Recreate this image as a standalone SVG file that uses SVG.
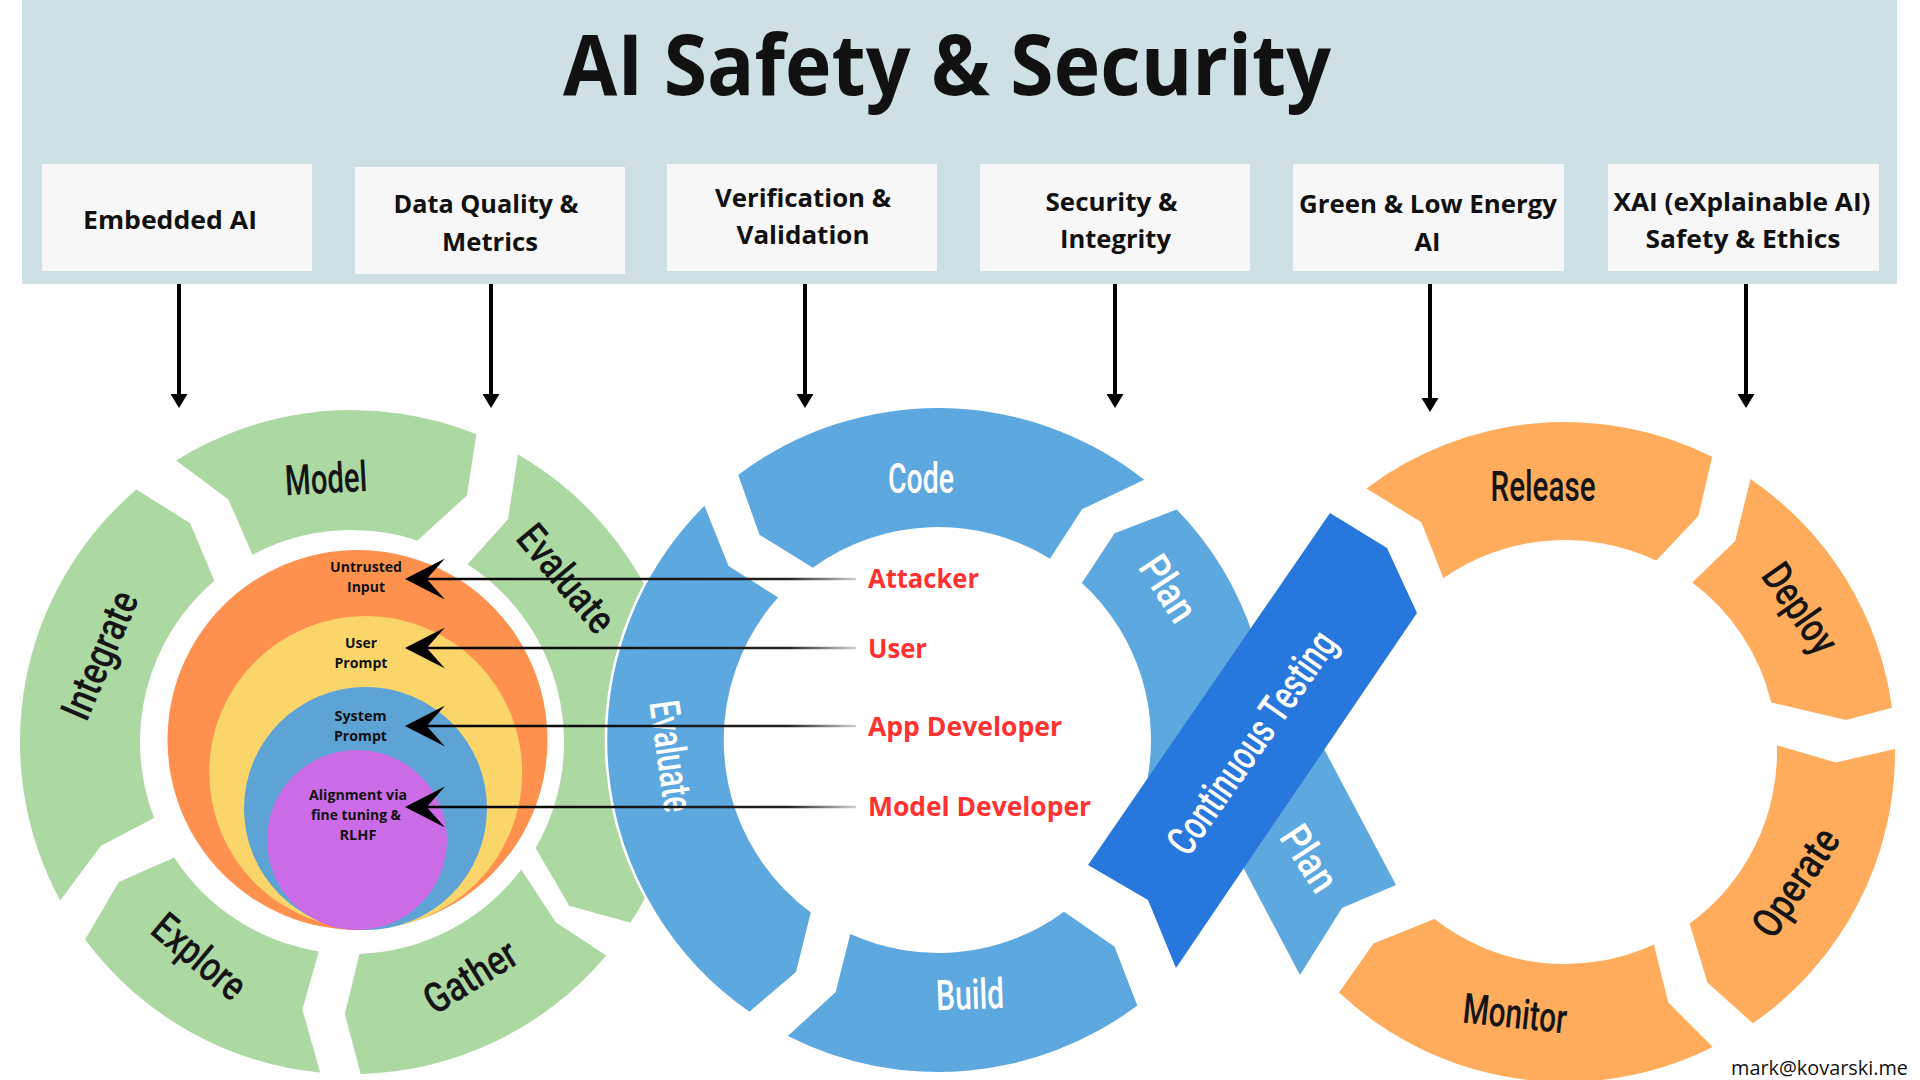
<svg xmlns="http://www.w3.org/2000/svg" width="1920" height="1080" viewBox="0 0 1920 1080">
<defs>
<style>
.hdr{font-family:"Open Sans","Liberation Sans",sans-serif;font-weight:700;fill:#111;text-anchor:middle}
.box{fill:#f7f7f7}
.ring{font-family:Roboto,"Liberation Sans",sans-serif;font-weight:500;text-anchor:middle;font-size:42px}
.dk{fill:#151515}
.wt{fill:#fff}
.g{fill:#acd8a2}
.b{fill:#5ea8e0}
.o{fill:#ffad5c}
.lay{font-family:"Open Sans","Liberation Sans",sans-serif;font-weight:700;font-size:14.5px;fill:#111;text-anchor:middle}
.role{font-family:"Open Sans","Liberation Sans",sans-serif;font-weight:700;font-size:27px;fill:#ff3131}
.drop{stroke:#000;stroke-width:4;fill:none}
.ptr{stroke-width:2.5;fill:none}
</style>
<marker id="tri" markerUnits="userSpaceOnUse" viewBox="0 -9 14 18" refX="1" refY="0" markerWidth="14" markerHeight="18" orient="auto">
<path d="M0,-8.5 L14,0 L0,8.5 Z" fill="#000"/>
</marker>
<marker id="barb" markerUnits="userSpaceOnUse" viewBox="-42 -22 44 44" refX="-7" refY="0" markerWidth="44" markerHeight="44" orient="auto">
<path d="M0,0 L-40,-20.5 L-21.7,0 L-40,20.5 Z" fill="#000"/>
</marker>
<linearGradient id="fade" gradientUnits="userSpaceOnUse" x1="856" y1="0" x2="405" y2="0">
<stop offset="0" stop-color="#d0d0d0"/>
<stop offset="0.15" stop-color="#222"/>
<stop offset="1" stop-color="#000"/>
</linearGradient>
</defs>

<rect width="1920" height="1080" fill="#fff"/>

<g id="header">
<rect x="22" y="0" width="1875" height="284" fill="#cee0e3"/>
<text class="hdr" x="947" y="95" font-size="84" textLength="768" lengthAdjust="spacingAndGlyphs">AI Safety &amp; Security</text>
</g>

<g id="box-embedded">
<rect class="box" x="42" y="164" width="270" height="107"/>
<text class="hdr" x="170" y="229" font-size="25" textLength="174" lengthAdjust="spacingAndGlyphs">Embedded AI</text>
</g>
<g id="box-data">
<rect class="box" x="355" y="167" width="270" height="107"/>
<text class="hdr" x="486" y="213" font-size="25" textLength="185" lengthAdjust="spacingAndGlyphs">Data Quality &amp;</text>
<text class="hdr" x="490" y="251" font-size="25" textLength="96" lengthAdjust="spacingAndGlyphs">Metrics</text>
</g>
<g id="box-verification">
<rect class="box" x="667" y="164" width="270" height="107"/>
<text class="hdr" x="803" y="207" font-size="25" textLength="176" lengthAdjust="spacingAndGlyphs">Verification &amp;</text>
<text class="hdr" x="803" y="244" font-size="25" textLength="133" lengthAdjust="spacingAndGlyphs">Validation</text>
</g>
<g id="box-security">
<rect class="box" x="980" y="164" width="270" height="107"/>
<text class="hdr" x="1111.5" y="211" font-size="25" textLength="132" lengthAdjust="spacingAndGlyphs">Security &amp;</text>
<text class="hdr" x="1115.5" y="248" font-size="25" textLength="111" lengthAdjust="spacingAndGlyphs">Integrity</text>
</g>
<g id="box-green">
<rect class="box" x="1293" y="164" width="271" height="107"/>
<text class="hdr" x="1428" y="213" font-size="25" textLength="258" lengthAdjust="spacingAndGlyphs">Green &amp; Low Energy</text>
<text class="hdr" x="1427.5" y="251" font-size="25" textLength="26" lengthAdjust="spacingAndGlyphs">AI</text>
</g>
<g id="box-xai">
<rect class="box" x="1608" y="164" width="271" height="107"/>
<text class="hdr" x="1742" y="211" font-size="25" textLength="257" lengthAdjust="spacingAndGlyphs">XAI (eXplainable AI)</text>
<text class="hdr" x="1743" y="248" font-size="25" textLength="195" lengthAdjust="spacingAndGlyphs">Safety &amp; Ethics</text>
</g>

<!-- green ring -->
<g id="g-model">
<path class="g" d="M176.1,460.5 A332,332 0 0 1 476.4,434.2 L466.9,495.5 L417.5,540.4 A212,212 0 0 0 252.5,554.8 L228.5,499.6 Z"/>
<text class="ring dk" transform="translate(326 478) rotate(-3)" dy="0.36em" textLength="82" lengthAdjust="spacingAndGlyphs">Model</text>
</g>
<g id="g-evaluate">
<path class="g" d="M518,454.5 A332,332 0 0 1 630.4,922.8 L569.2,905.7 L535.6,848 A212,212 0 0 0 467.5,564.2 L508,519.2 Z"/>
<text class="ring dk" transform="translate(567 578) rotate(50)" dy="0.36em" textLength="127" lengthAdjust="spacingAndGlyphs">Evaluate</text>
</g>
<g id="g-gather">
<path class="g" d="M606.3,955.4 A332,332 0 0 1 360.7,1073.9 L344.9,1013.9 L359.4,953.9 A212,212 0 0 0 521.3,869.6 L555.7,922.2 Z"/>
<text class="ring dk" transform="translate(470 976) rotate(-32)" dy="0.36em" textLength="102" lengthAdjust="spacingAndGlyphs">Gather</text>
</g>
<g id="g-explore">
<path class="g" d="M320.2,1072.5 A332,332 0 0 1 85.1,939.5 L118.8,882.1 L174.2,857.5 A212,212 0 0 0 318.8,951.4 L302.4,1009.5 Z"/>
<text class="ring dk" transform="translate(200 956) rotate(40)" dy="0.36em" textLength="109" lengthAdjust="spacingAndGlyphs">Explore</text>
</g>
<g id="g-integrate">
<path class="g" d="M60.2,900.4 A332,332 0 0 1 136.4,489.5 L190.2,523.3 L214.3,580.8 A212,212 0 0 0 154.1,818.0 L100.7,846.1 Z"/>
<text class="ring dk" transform="translate(99 655) rotate(-67)" dy="0.36em" textLength="135" lengthAdjust="spacingAndGlyphs">Integrate</text>
</g>

<!-- nested layers -->
<g id="layer-untrusted">
<circle cx="357.5" cy="740" r="190" fill="#fe914d"/>
<text class="lay" x="366" y="572" textLength="72" lengthAdjust="spacingAndGlyphs">Untrusted</text>
<text class="lay" x="366" y="592" textLength="38" lengthAdjust="spacingAndGlyphs">Input</text>
</g>
<g id="layer-user">
<circle cx="365.7" cy="772.5" r="156.5" fill="#fad66a"/>
<text class="lay" x="361" y="648" textLength="32" lengthAdjust="spacingAndGlyphs">User</text>
<text class="lay" x="361" y="668" textLength="53" lengthAdjust="spacingAndGlyphs">Prompt</text>
</g>
<g id="layer-system">
<circle cx="365.5" cy="808.5" r="121.5" fill="#5ea3d6"/>
<text class="lay" x="360.5" y="721" textLength="52" lengthAdjust="spacingAndGlyphs">System</text>
<text class="lay" x="360.5" y="741" textLength="53" lengthAdjust="spacingAndGlyphs">Prompt</text>
</g>
<g id="layer-alignment">
<circle cx="357" cy="840" r="90" fill="#cb6ce6"/>
<text class="lay" x="358" y="800" textLength="98" lengthAdjust="spacingAndGlyphs">Alignment via</text>
<text class="lay" x="356" y="819.5" textLength="90" lengthAdjust="spacingAndGlyphs">fine tuning &amp;</text>
<text class="lay" x="358" y="839.5" textLength="37" lengthAdjust="spacingAndGlyphs">RLHF</text>
</g>

<!-- blue ring -->
<g id="b-code">
<path class="b" d="M738.2,474.9 A332,332 0 0 1 1144.2,479.8 L1082.1,509.3 L1049.9,558.8 A213,213 0 0 0 812.8,567.7 L759.5,534.7 Z"/>
<text class="ring wt" transform="translate(921 478)" dy="0.36em" textLength="66" lengthAdjust="spacingAndGlyphs">Code</text>
</g>
<g id="b-evaluate">
<path class="b" stroke="#fff" stroke-width="2.5" d="M704.9,503.6 A332,332 0 0 0 749.5,1013.3 L797.1,972.7 L812.2,911.9 A213,213 0 0 1 780.0,597.2 L729.6,565.2 Z"/>
<text class="ring wt" transform="translate(672 756) rotate(82)" dy="0.36em" textLength="112" lengthAdjust="spacingAndGlyphs">Evaluate</text>
</g>
<g id="b-build">
<path class="b" d="M787.8,1036.1 A332,332 0 0 0 1137.3,1005.5 L1114.6,946.8 L1064.1,911.7 A213,213 0 0 1 850.3,934.1 L835.7,992.0 Z"/>
<text class="ring wt" transform="translate(970 994) rotate(-2)" dy="0.36em" textLength="68" lengthAdjust="spacingAndGlyphs">Build</text>
</g>
<g id="b-plan">
<path class="b" d="M1176.8,509.4 A332,332 0 0 1 1253.8,637.4 L1304,712 L1323,747 L1396,885 L1342,908 L1300,975 L1243,867 L1224,832 L1144.7,791.5 A213,213 0 0 0 1081.9,583.0 L1114.6,533.2 Z"/>
<text class="ring wt" font-size="36" transform="translate(1169 588) rotate(57)" dy="0.36em" textLength="70" lengthAdjust="spacingAndGlyphs">Plan</text>
<text class="ring wt" font-size="36" transform="translate(1310 858) rotate(57)" dy="0.36em" textLength="70" lengthAdjust="spacingAndGlyphs">Plan</text>
</g>
<g id="continuous-testing">
<path fill="#2877dd" d="M1330,513 L1387,548 L1417,613 L1176,968 L1148,900 L1088,865 Z"/>
<text class="ring wt" font-size="38" transform="translate(1251 742) rotate(-55)" dy="0.36em" textLength="262" lengthAdjust="spacingAndGlyphs">Continuous Testing</text>
</g>

<!-- orange ring -->
<g id="o-release">
<path class="o" d="M1366.4,488.5 A330,330 0 0 1 1712.2,456.7 L1698.4,516.1 L1656.3,560.6 A212,212 0 0 0 1443.4,578.3 L1421.4,522.2 Z"/>
<text class="ring dk" transform="translate(1543 486)" dy="0.36em" textLength="105" lengthAdjust="spacingAndGlyphs">Release</text>
</g>
<g id="o-deploy">
<path class="o" d="M1750.5,479.1 A330,330 0 0 1 1892.0,707.8 L1846,720 L1771.2,702.5 A212,212 0 0 0 1692.3,582.5 L1735.2,541.1 Z"/>
<text class="ring dk" transform="translate(1801 608) rotate(55)" dy="0.36em" textLength="100" lengthAdjust="spacingAndGlyphs">Deploy</text>
</g>
<g id="o-operate">
<path class="o" d="M1895,749.1 A330,330 0 0 1 1752.9,1023.3 L1707.4,982.6 L1689.6,923.5 A212,212 0 0 0 1776.9,745.3 L1835.8,762.4 Z"/>
<text class="ring dk" transform="translate(1795 882) rotate(-56)" dy="0.36em" textLength="122" lengthAdjust="spacingAndGlyphs">Operate</text>
</g>
<g id="o-monitor">
<path class="o" d="M1712.8,1047.1 A330,330 0 0 1 1339.1,992.6 L1373.4,943.6 L1434.5,919.1 A212,212 0 0 0 1653.9,944.5 L1668.3,1002.5 Z"/>
<text class="ring dk" transform="translate(1515 1013) rotate(6)" dy="0.36em" textLength="104" lengthAdjust="spacingAndGlyphs">Monitor</text>
</g>

<!-- connectors -->
<g id="connectors">
<line class="drop" x1="179" y1="284" x2="179" y2="395" marker-end="url(#tri)"/>
<line class="drop" x1="491" y1="284" x2="491" y2="395" marker-end="url(#tri)"/>
<line class="drop" x1="805" y1="284" x2="805" y2="395" marker-end="url(#tri)"/>
<line class="drop" x1="1115" y1="284" x2="1115" y2="395" marker-end="url(#tri)"/>
<line class="drop" x1="1430" y1="284" x2="1430" y2="399" marker-end="url(#tri)"/>
<line class="drop" x1="1746" y1="284" x2="1746" y2="395" marker-end="url(#tri)"/>
<line class="ptr" x1="856" y1="579" x2="412" y2="579" stroke="url(#fade)" marker-end="url(#barb)"/>
<line class="ptr" x1="856" y1="648" x2="412" y2="648" stroke="url(#fade)" marker-end="url(#barb)"/>
<line class="ptr" x1="856" y1="726" x2="412" y2="726" stroke="url(#fade)" marker-end="url(#barb)"/>
<line class="ptr" x1="856" y1="807" x2="412" y2="807" stroke="url(#fade)" marker-end="url(#barb)"/>
</g>

<g id="roles">
<text class="role" x="868" y="588" textLength="111" lengthAdjust="spacingAndGlyphs">Attacker</text>
<text class="role" x="868" y="658" textLength="59" lengthAdjust="spacingAndGlyphs">User</text>
<text class="role" x="868" y="736" textLength="194" lengthAdjust="spacingAndGlyphs">App Developer</text>
<text class="role" x="868" y="816" textLength="223" lengthAdjust="spacingAndGlyphs">Model Developer</text>
</g>

<text x="1731" y="1075" font-family="'Open Sans','Liberation Sans',sans-serif" font-size="19.5" fill="#111" textLength="177" lengthAdjust="spacingAndGlyphs">mark@kovarski.me</text>
</svg>
